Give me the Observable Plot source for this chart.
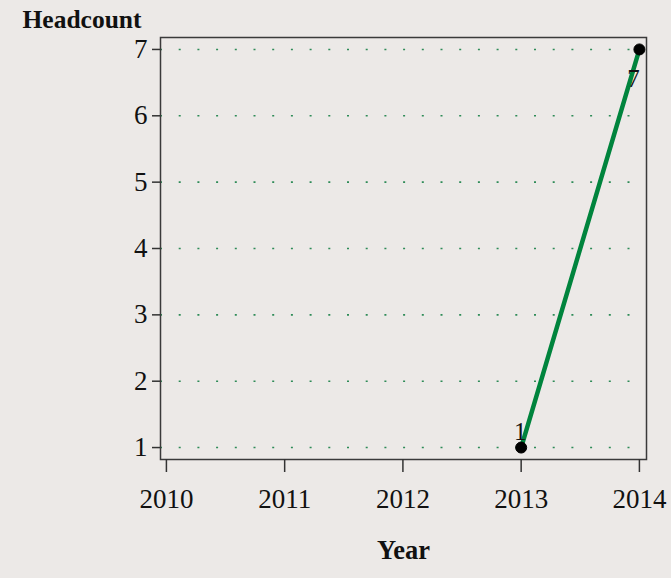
<!DOCTYPE html>
<html>
<head>
<meta charset="utf-8">
<script src="https://cdn.jsdelivr.net/npm/d3@7"></script>
<script src="https://cdn.jsdelivr.net/npm/@observablehq/plot@0.6"></script>
<style>
  html, body { margin: 0; padding: 0; background: #ECE9E7; }
</style>
</head>
<body>
<div id="chart"></div>
<script>
const years = [2013, 2014];
const headcount = [1, 7];
const pointLabels = ["1", "7"];
const xTicks = [2010, 2011, 2012, 2013, 2014];
const yTicks = [1, 2, 3, 4, 5, 6, 7];
const xTitle = "Year";
const yTitle = "Headcount";

const data = years.map((y, i) => ({year: y, count: headcount[i], label: pointLabels[i]}));
const font = "'Liberation Serif', 'Times New Roman', serif";

const chart = Plot.plot({
  width: 671,
  height: 578,
  marginLeft: 160,
  marginRight: 25,
  marginTop: 37,
  marginBottom: 119,
  style: {background: "#ECE9E7", fontFamily: font, fontSize: "27px", color: "#111"},
  x: {domain: [2009.95, 2014.06]},
  y: {domain: [0.82, 7.18]},
  marks: [
    Plot.gridY(yTicks, {stroke: "#2e8b57", strokeOpacity: 1, strokeWidth: 1.6, strokeDasharray: "2,16.7"}),
    Plot.frame({stroke: "#3a3a3a", strokeWidth: 1.5}),
    Plot.axisX(xTicks, {tickSize: 13, tickPadding: 16, tickFormat: d => String(d), fontSize: 27, stroke: "#333", strokeWidth: 1.5, label: null}),
    Plot.axisY(yTicks, {tickSize: 8, tickPadding: 5, tickFormat: d => String(d), fontSize: 27, stroke: "#333", strokeWidth: 1.5, label: null}),
    Plot.line(data, {x: "year", y: "count", stroke: "#00843d", strokeWidth: 4.5}),
    Plot.dot(data, {x: "year", y: "count", r: 5.5, fill: "#000", stroke: "#000", strokeWidth: 1}),
    Plot.text(data.slice(0, 1), {x: "year", y: "count", text: "label", dx: -1, dy: -16, fontSize: 25, fill: "#111"}),
    Plot.text(data.slice(1), {x: "year", y: "count", text: "label", dx: -6, dy: 30, fontSize: 25, fill: "#111"}),
    Plot.text([yTitle], {frameAnchor: "top-left", lineAnchor: "middle", text: d => d, textAnchor: "start", dx: -138, dy: -18, fontSize: 25.5, fontWeight: "bold", fill: "#111"}),
    Plot.text([xTitle], {frameAnchor: "bottom", lineAnchor: "middle", text: d => d, dy: 91, fontSize: 26.5, fontWeight: "bold", fill: "#111"})
  ]
});
document.getElementById("chart").appendChild(chart);
</script>
</body>
</html>
